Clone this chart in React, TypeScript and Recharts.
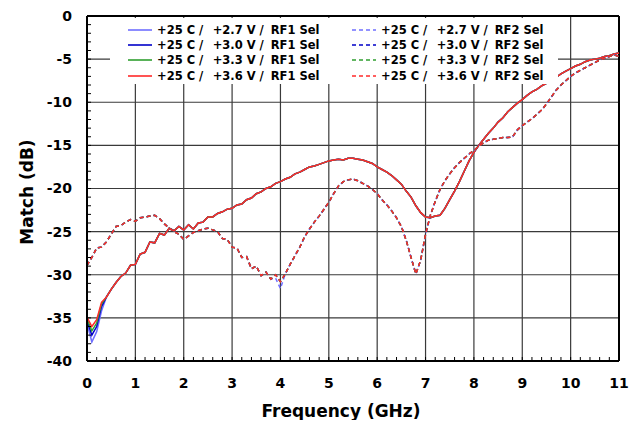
import { LineChart, Line, XAxis, YAxis, ReferenceLine, Legend, Label } from 'recharts';

const FONT = '"DejaVu Sans", Verdana, sans-serif';

// frequency grid, GHz
const freqs = Array.from({ length: 111 }, (_, i) => Math.round(i) / 10);

// RF1 selected, match in dB (all supplies overlap except near DC)
const rf1Match = [
  -34.9, -36.0, -35.2, -33.2, -32.6, -31.7, -30.9, -30.2, -29.8, -28.9,
  -28.8, -27.6, -27.4, -26.2, -26.3, -25.2, -25.4, -24.6, -24.9, -24.4,
  -24.8, -24.2, -24.7, -24.0, -23.9, -23.3, -23.3, -22.9, -22.7, -22.4,
  -22.3, -21.9, -21.8, -21.3, -21.1, -20.6, -20.4, -20.0, -19.8, -19.4,
  -19.2, -18.9, -18.7, -18.3, -18.1, -17.8, -17.5, -17.4, -17.2, -17.0,
  -16.8, -16.7, -16.6, -16.7, -16.5, -16.5, -16.6, -16.7, -16.9, -17.1,
  -17.5, -17.8, -18.1, -18.5, -19.0, -19.5, -20.3, -21.0, -22.0, -22.8,
  -23.3, -23.4, -23.2, -23.1, -22.3, -21.3, -20.3, -19.2, -18.0, -16.8,
  -15.8, -15.0, -14.3, -13.6, -13.0, -12.3, -11.8, -11.1, -10.6, -10.1,
  -9.7, -9.2, -8.8, -8.5, -8.1, -7.8, -7.5, -7.1, -6.7, -6.4,
  -6.1, -5.8, -5.6, -5.3, -5.1, -5.0, -4.9, -4.7, -4.6, -4.4,
  -4.3,
];

// RF2 selected, match in dB
const rf2Match = [
  -28.9, -28.0, -26.9, -26.8, -26.2, -25.3, -24.4, -24.3, -23.9, -23.6,
  -23.8, -23.4, -23.3, -23.2, -23.1, -23.5, -24.1, -24.6, -25.0, -25.3,
  -25.9, -25.5, -25.1, -24.9, -24.7, -24.6, -24.8, -25.0, -25.8, -25.9,
  -26.8, -26.9, -28.0, -27.9, -29.3, -29.0, -30.1, -29.7, -30.5, -30.0,
  -30.8, -29.9, -28.8, -27.8, -26.8, -25.6, -24.7, -23.9, -23.2, -22.4,
  -21.6, -20.6, -19.7, -19.2, -19.0, -18.9, -19.1, -19.4, -19.7, -20.1,
  -20.6, -21.3, -21.9, -22.6, -23.4, -24.4, -26.0, -28.0, -29.9, -28.3,
  -25.3, -23.1, -21.5, -20.1, -19.1, -18.3, -17.6, -17.0, -16.5, -16.0,
  -15.6, -15.1, -14.7, -14.4, -14.3, -14.2, -14.1, -14.1, -14.0, -13.2,
  -12.7, -12.3, -11.9, -11.4, -10.9, -10.2, -9.4, -8.6, -8.0, -7.5,
  -7.0, -6.6, -6.3, -6.0, -5.7, -5.4, -5.1, -4.9, -4.7, -4.5,
  -4.7,
];

// where the supply curves split apart (start index + values)
const rf1Low27 = [-35.6, -37.8, -36.6, -34.2];
const rf1Low30 = [-35.3, -37.0, -36.0, -33.7];
const rf1Low33 = [-35.1, -36.5, -35.6, -33.4];
const rf2Dip27 = [-30.4, -31.6];

const supplies = ['+2.7 V /', '+3.0 V /', '+3.3 V /', '+3.6 V /'];
const colors = ['#6f6fff', '#0000c8', '#2f9f2f', '#ff2a2a'];

const series = [
  { key: 'rf1v27', port: 'RF1 Sel', v: 0, base: rf1Match, patchAt: 0, patch: rf1Low27 },
  { key: 'rf1v30', port: 'RF1 Sel', v: 1, base: rf1Match, patchAt: 0, patch: rf1Low30 },
  { key: 'rf1v33', port: 'RF1 Sel', v: 2, base: rf1Match, patchAt: 0, patch: rf1Low33 },
  { key: 'rf1v36', port: 'RF1 Sel', v: 3, base: rf1Match, patchAt: 0, patch: [] },
  { key: 'rf2v27', port: 'RF2 Sel', v: 0, base: rf2Match, patchAt: 39, patch: rf2Dip27 },
  { key: 'rf2v30', port: 'RF2 Sel', v: 1, base: rf2Match, patchAt: 0, patch: [] },
  { key: 'rf2v33', port: 'RF2 Sel', v: 2, base: rf2Match, patchAt: 0, patch: [] },
  { key: 'rf2v36', port: 'RF2 Sel', v: 3, base: rf2Match, patchAt: 0, patch: [] },
];

const valuesOf = (s: (typeof series)[number]) =>
  s.base.map((v, i) => {
    const j = i - s.patchAt;
    return j >= 0 && j < s.patch.length ? s.patch[j] : v;
  });

const rows = freqs.map((f, i) => {
  const row: Record<string, number> = { f };
  series.forEach((s) => {
    row[s.key] = valuesOf(s)[i];
  });
  return row;
});

const xMinor = Array.from({ length: 56 }, (_, i) => Math.round(i * 2) / 10);
const yMinor = Array.from({ length: 41 }, (_, i) => i - 40);
const xGrid = [1, 2, 3, 4, 5, 6, 7, 8, 9, 10];
const yGrid = [-35, -30, -25, -20, -15, -10, -5];

const isInt = (v: number) => Math.abs(v - Math.round(v)) < 1e-6;

function MatchLegend() {
  const textOffsets = [0, 55.7, 113.7];
  return (
    <div
      style={{
        position: 'relative',
        width: 448,
        height: 66,
        background: '#fff',
        fontFamily: FONT,
        fontWeight: 'bold',
        fontSize: 11.5,
        color: '#000',
      }}
    >
      {series.map((s, i) => {
        const x0 = s.port === 'RF1 Sel' ? 18 : 242;
        const cy = 12 + (i % 4) * 15.2;
        const parts = ['+25 C /', supplies[s.v], s.port];
        return (
          <div key={s.key}>
            <svg style={{ position: 'absolute', left: x0, top: cy - 2 }} width={24} height={4}>
              <line
                x1={0}
                x2={24}
                y1={2}
                y2={2}
                stroke={colors[s.v]}
                strokeWidth={1.6}
                strokeDasharray={s.port === 'RF2 Sel' ? '4 3' : undefined}
              />
            </svg>
            {parts.map((p, k) => (
              <span
                key={k}
                style={{
                  position: 'absolute',
                  left: x0 + 29 + textOffsets[k],
                  top: cy - 8,
                  lineHeight: '16px',
                  whiteSpace: 'nowrap',
                }}
              >
                {p}
              </span>
            ))}
          </div>
        );
      })}
    </div>
  );
}

const tickStyle = { fontSize: 14, fontWeight: 'bold', fill: '#000', fontFamily: FONT };

export default function App() {
  return (
    <div style={{ fontFamily: FONT }}>
      <LineChart width={627} height={412} data={rows} margin={{ top: 8, right: 16, left: 0, bottom: 0 }}>
        <XAxis
          dataKey="f"
          type="number"
          domain={[0, 11]}
          ticks={xMinor}
          interval={0}
          tickFormatter={(v: number) => (isInt(v) ? String(Math.round(v)) : '')}
          tickSize={-4}
          tickMargin={21}
          tick={tickStyle}
          tickLine={{ stroke: '#000', strokeWidth: 1 }}
          axisLine={{ stroke: '#000', strokeWidth: 2 }}
          height={59}
        >
          <Label
            value="Frequency (GHz)"
            position="center"
            dx={-12}
            dy={20}
            style={{ fontSize: 17, fontWeight: 'bold', fill: '#000', fontFamily: FONT }}
          />
        </XAxis>
        <YAxis
          type="number"
          domain={[-40, 0]}
          ticks={yMinor}
          interval={0}
          tickFormatter={(v: number) => (v % 5 === 0 ? String(v) : '')}
          tickSize={-4}
          tickMargin={19}
          tick={tickStyle}
          tickLine={{ stroke: '#000', strokeWidth: 1 }}
          axisLine={{ stroke: '#000', strokeWidth: 2 }}
          width={79}
        >
          <Label
            value="Match (dB)"
            position="center"
            angle={-90}
            dx={-20.5}
            dy={3.5}
            style={{ fontSize: 17, fontWeight: 'bold', fill: '#000', fontFamily: FONT, textAnchor: 'middle' }}
          />
        </YAxis>
        {xGrid.map((x) => (
          <ReferenceLine key={'gx' + x} x={x} stroke="#3a3a3a" strokeWidth={1.2} />
        ))}
        {yGrid.map((y) => (
          <ReferenceLine key={'gy' + y} y={y} stroke="#3a3a3a" strokeWidth={1.2} />
        ))}
        <ReferenceLine y={0} stroke="#000" strokeWidth={2} />
        <ReferenceLine x={11} stroke="#000" strokeWidth={2} />
        {series.map((s) => (
          <Line
            key={s.key}
            dataKey={s.key}
            type="linear"
            stroke={colors[s.v]}
            strokeWidth={1.5}
            strokeDasharray={s.port === 'RF2 Sel' ? '4 3' : undefined}
            dot={false}
            activeDot={false}
            isAnimationActive={false}
          />
        ))}
        <Legend
          layout="horizontal"
          verticalAlign="middle"
          align="center"
          content={() => <MatchLegend />}
          wrapperStyle={{ top: 10, left: 102, width: 448, height: 66 }}
        />
      </LineChart>
    </div>
  );
}
